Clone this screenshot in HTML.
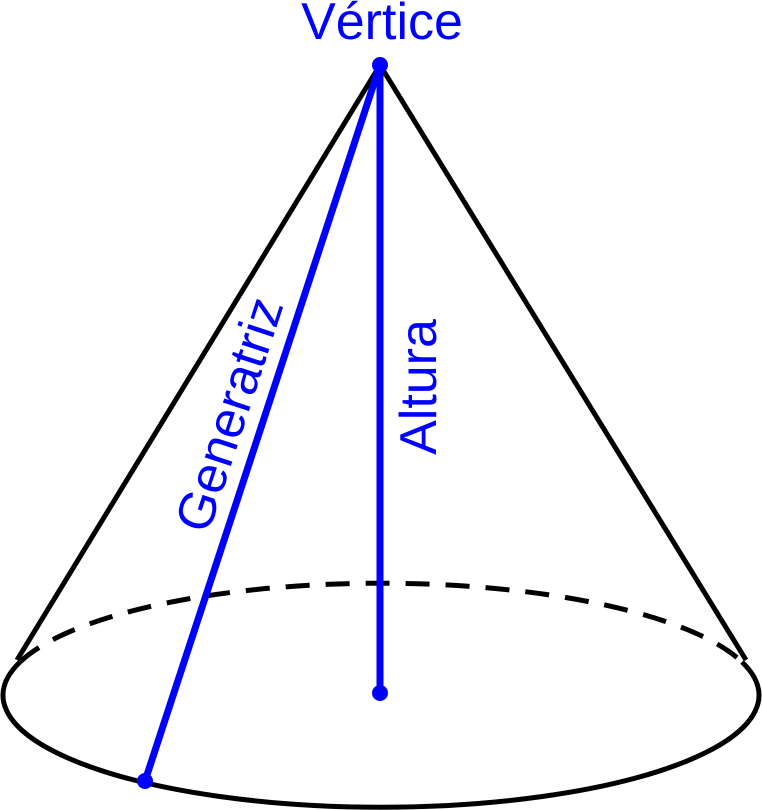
<!DOCTYPE html>
<html><head><style>html,body{margin:0;padding:0;background:#fff}svg{display:block}</style></head>
<body>
<svg width="762" height="810" viewBox="0 0 762 810" xmlns="http://www.w3.org/2000/svg">
<g fill="none" stroke="#000" stroke-width="5">
<path d="M 380 65 L 17 660"/>
<path d="M 380 65 L 746 660"/>
<path d="M 20 662 A 378 112 0 1 0 742 662"/>
<path d="M 20 662 A 378 112 0 0 1 742 662" stroke-dasharray="24 16"/>
</g>
<g stroke="#0000ff" stroke-width="7" fill="#0000ff">
<line x1="380" y1="65" x2="145" y2="781"/>
<line x1="380" y1="65" x2="380" y2="693"/>
<circle cx="380" cy="65" r="8" stroke="none"/>
<circle cx="380" cy="693" r="8" stroke="none"/>
<circle cx="145" cy="781" r="8" stroke="none"/>
</g>
<g fill="#0000ff" font-family="Liberation Sans, sans-serif" font-size="52">
<text x="382" y="39" text-anchor="middle">Vértice</text>
<text transform="translate(436,387) rotate(-90)" text-anchor="middle">Altura</text>
<text transform="translate(246,420) rotate(-71.8)" text-anchor="middle">Generatriz</text>
</g>
</svg>
</body></html>
